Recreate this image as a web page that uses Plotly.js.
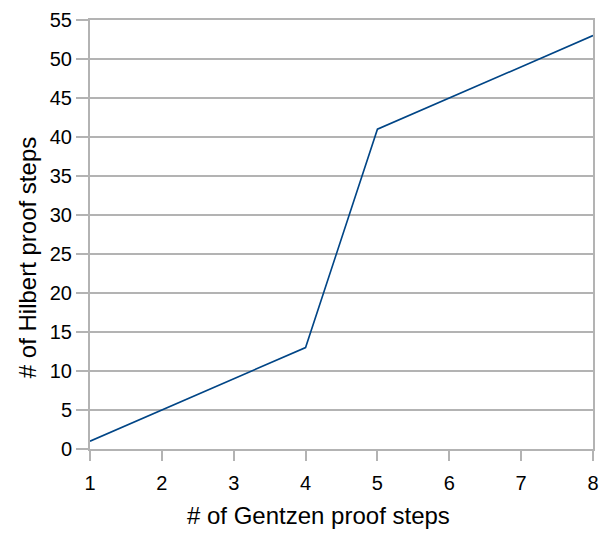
<!DOCTYPE html>
<html>
<head>
<meta charset="utf-8">
<script src="https://cdn.plot.ly/plotly-3.0.1.min.js"></script>
<style>html,body{margin:0;padding:0;background:#fff;}#chart{width:601px;height:533px;}</style>
</head>
<body>
<div id="chart"></div>
<script>
const gentzenSteps = [1, 2, 3, 4, 5, 6, 7, 8];
const hilbertSteps = [1, 5, 9, 13, 41, 45, 49, 53];
const xTitle = "# of Gentzen proof steps";
const yTitle = "# of Hilbert proof steps";

const fam = "Liberation Sans, Arial, sans-serif";
const tickFont = {family: fam, size: 20, color: "#000"};
const titleFont = {family: fam, size: 24, color: "#000"};
const grid = "#b3b3b3";

Plotly.newPlot("chart", [{
  x: gentzenSteps,
  y: hilbertSteps,
  type: "scatter",
  mode: "lines",
  line: {color: "#004586", width: 1.6},
  hoverinfo: "none"
}], {
  width: 601,
  height: 533,
  margin: {l: 90, r: 8, t: 20, b: 84},
  paper_bgcolor: "#fff",
  plot_bgcolor: "#fff",
  showlegend: false,
  font: tickFont,
  xaxis: {
    range: [1, 8],
    dtick: 1,
    tick0: 1,
    showgrid: false,
    zeroline: false,
    showline: true,
    linecolor: grid,
    linewidth: 2,
    mirror: true,
    ticks: "outside",
    ticklen: 10,
    tickcolor: grid,
    tickwidth: 2,
    ticklabelstandoff: 5,
    tickfont: tickFont
  },
  yaxis: {
    range: [0, 55],
    dtick: 5,
    showgrid: true,
    gridcolor: grid,
    gridwidth: 2,
    zeroline: false,
    showline: true,
    linecolor: grid,
    linewidth: 2,
    mirror: true,
    ticks: "outside",
    ticklen: 12,
    tickcolor: grid,
    tickwidth: 2,
    tickfont: tickFont
  },
  annotations: [
    {text: xTitle, font: titleFont, showarrow: false, xref: "paper", yref: "paper",
     x: 0.455, y: -0.154, xanchor: "center", yanchor: "middle"},
    {text: yTitle, font: titleFont, showarrow: false, xref: "paper", yref: "paper",
     x: -0.125, y: 0.445, xanchor: "center", yanchor: "middle", textangle: -90}
  ]
}, {staticPlot: true});
</script>
</body>
</html>
